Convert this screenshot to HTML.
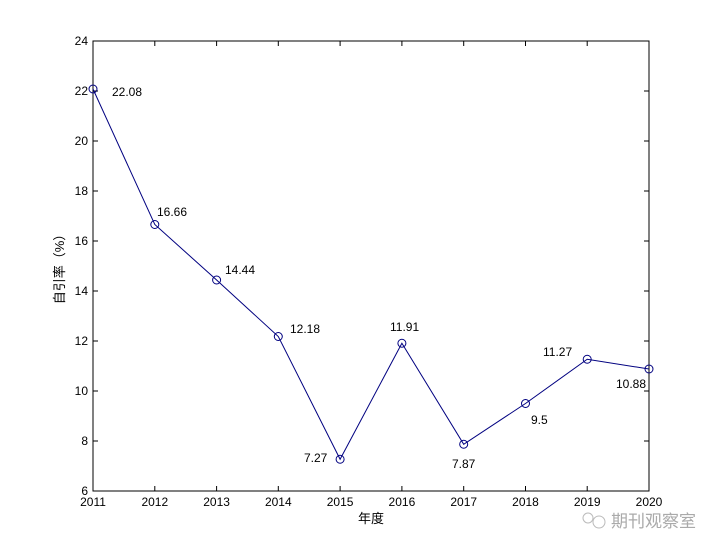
<!DOCTYPE html>
<html><head><meta charset="utf-8"><style>
body{margin:0;background:#fff;}
svg text{font-family:"Liberation Sans",Arial,sans-serif;font-size:12px;fill:#000;}
</style></head><body>
<svg width="718" height="551" xmlns="http://www.w3.org/2000/svg">
<rect width="718" height="551" fill="#fff"/>
<rect x="93" y="41" width="556" height="450" fill="none" stroke="#000" stroke-width="1"/>
<g stroke="#000" stroke-width="1">
<!-- y ticks -->
<path d="M93 441h5M93 391h5M93 341h5M93 291h5M93 241h5M93 191h5M93 141h5M93 91h5
M649 441h-5M649 391h-5M649 341h-5M649 291h-5M649 241h-5M649 191h-5M649 141h-5M649 91h-5
M154.8 491v-5M216.6 491v-5M278.3 491v-5M340.1 491v-5M401.9 491v-5M463.7 491v-5M525.5 491v-5M587.2 491v-5
M154.8 41v5M216.6 41v5M278.3 41v5M340.1 41v5M401.9 41v5M463.7 41v5M525.5 41v5M587.2 41v5"/>
</g>
<g text-anchor="end">
<text x="88" y="495">6</text><text x="88" y="445">8</text><text x="88" y="395">10</text><text x="88" y="345">12</text><text x="88" y="295">14</text><text x="88" y="245">16</text><text x="88" y="195">18</text><text x="88" y="145">20</text><text x="88" y="95">22</text><text x="88" y="45">24</text>
</g>
<g text-anchor="middle">
<text x="93" y="506">2011</text><text x="154.8" y="506">2012</text><text x="216.6" y="506">2013</text><text x="278.3" y="506">2014</text><text x="340.1" y="506">2015</text><text x="401.9" y="506">2016</text><text x="463.7" y="506">2017</text><text x="525.5" y="506">2018</text><text x="587.2" y="506">2019</text><text x="649" y="506">2020</text>
<text x="371" y="523" style="font-family:'Liberation Sans','Noto Sans CJK SC',sans-serif;font-size:13px">年度</text>
</g>
<text transform="translate(64,266) rotate(-90)" text-anchor="middle" style="font-family:'Liberation Sans','Noto Sans CJK SC',sans-serif;font-size:13px">自引率（%）</text>
<polyline fill="none" stroke="#000080" stroke-width="1" points="93,89 154.8,224.5 216.6,280 278.3,336.5 340.1,459.25 401.9,343.25 463.7,444.25 525.5,403.5 587.2,359.25 649,369"/>
<g fill="none" stroke="#000080" stroke-width="1">
<circle cx="93" cy="89" r="4"/><circle cx="154.8" cy="224.5" r="4"/><circle cx="216.6" cy="280" r="4"/><circle cx="278.3" cy="336.5" r="4"/><circle cx="340.1" cy="459.25" r="4"/><circle cx="401.9" cy="343.25" r="4"/><circle cx="463.7" cy="444.25" r="4"/><circle cx="525.5" cy="403.5" r="4"/><circle cx="587.2" cy="359.25" r="4"/><circle cx="649" cy="369" r="4"/>
</g>
<text x="112" y="96">22.08</text>
<text x="157" y="216">16.66</text>
<text x="225" y="274">14.44</text>
<text x="290" y="333">12.18</text>
<text x="304" y="462">7.27</text>
<text x="390" y="331">11.91</text>
<text x="452" y="468">7.87</text>
<text x="531" y="424">9.5</text>
<text x="543" y="356">11.27</text>
<text x="616" y="388">10.88</text>
<g fill="none" stroke="#bbb" stroke-width="1">
<circle cx="588" cy="518" r="5"/><circle cx="599" cy="522" r="6"/>
</g>
<text x="611" y="527" style="font-family:'Noto Sans CJK SC',sans-serif;font-size:17px;fill:#aaa">期刊观察室</text>
</svg>
</body></html>
